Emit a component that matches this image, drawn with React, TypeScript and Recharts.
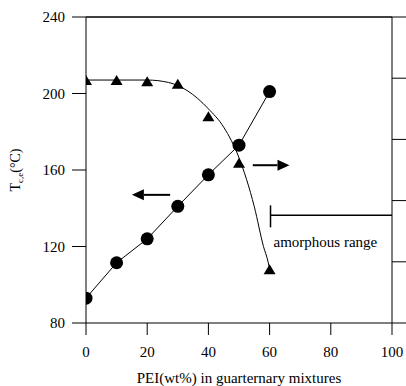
import React from 'react';
import {
  ComposedChart, Line, Scatter, XAxis, YAxis, ReferenceLine,
} from 'recharts';

const xTicks = [0, 20, 40, 60, 80, 100];
const leftTicks = [80, 120, 160, 200, 240];
const rightTicks = [0, 1, 2, 3, 4, 5];

const circleData = [
  { x: 0, y: 93 },
  { x: 10, y: 111.5 },
  { x: 20, y: 124 },
  { x: 30, y: 141 },
  { x: 40, y: 157.5 },
  { x: 50, y: 173 },
  { x: 60, y: 201 },
];

const triangleData = [
  { x: 0, r: 3.97 },
  { x: 10, r: 3.97 },
  { x: 20, r: 3.95 },
  { x: 30, r: 3.91 },
  { x: 40, r: 3.38 },
  { x: 50, r: 2.62 },
  { x: 60, r: 0.88 },
];

const curveData = [
  { x: 0, r: 3.97 },
  { x: 10, r: 3.97 },
  { x: 20, r: 3.97 },
  { x: 27, r: 3.93 },
  { x: 33, r: 3.8 },
  { x: 40, r: 3.5 },
  { x: 45, r: 3.2 },
  { x: 50, r: 2.7 },
  { x: 55, r: 1.9 },
  { x: 58, r: 1.25 },
  { x: 59.5, r: 1.0 },
  { x: 60, r: 0.88 },
];

const FONT = 'Liberation Serif';

const Triangle = (props: any) => {
  const { cx, cy } = props;
  if (cx == null || cy == null) return null;
  const w = 12;
  const h = 10;
  return (
    <polygon
      points={`${cx - w / 2},${cy + h / 2} ${cx + w / 2},${cy + h / 2} ${cx},${cy - h / 2}`}
      fill="#000"
    />
  );
};

const arrowShape = (dir: 'left' | 'right') => (props: any) => {
  const { x1, y1, x2, y2 } = props;
  if (x1 == null) return null;
  const headX = dir === 'left' ? Math.min(x1, x2) : Math.max(x1, x2);
  const tailX = dir === 'left' ? Math.max(x1, x2) : Math.min(x1, x2);
  const y = y1;
  const hl = 12;
  const hw = 5.5;
  const baseX = dir === 'left' ? headX + hl : headX - hl;
  return (
    <g>
      <line x1={tailX} y1={y} x2={baseX} y2={y2} stroke="#000" strokeWidth={2} />
      <polygon points={`${headX},${y} ${baseX},${y - hw} ${baseX},${y + hw}`} fill="#000" />
    </g>
  );
};

const amorphShape = (props: any) => {
  const { x1, y1, x2, y2 } = props;
  if (x1 == null) return null;
  return (
    <g>
      <line x1={x1} y1={y1} x2={x2} y2={y2} stroke="#000" strokeWidth={1.5} />
      <text x={x1 + 3} y={y2 + 20} fontFamily={FONT} fontSize={15} fill="#000">
        amorphous range
      </text>
    </g>
  );
};

const emptyTick = () => <g />;

const TickText = (props: any) => {
  const { x, y, payload, textAnchor, dy } = props;
  return (
    <text
      x={x}
      y={y}
      dy={dy ?? '0.35em'}
      textAnchor={textAnchor}
      fontFamily={FONT}
      fontSize={15}
      fill="#000"
    >
      {payload.value}
    </text>
  );
};

const XTick = (props: any) => <TickText {...props} dy="0.71em" />;
const YTick = (props: any) => <TickText {...props} dy="0.35em" />;

export default function App() {
  return (
    <div style={{ position: 'absolute', left: 0, top: 0, background: '#fff' }}>
      <ComposedChart
        width={406}
        height={386}
        margin={{ top: 17, right: 0, left: 0, bottom: 0 }}
      >
        <XAxis
          xAxisId="x"
          type="number"
          dataKey="x"
          domain={[0, 100]}
          ticks={xTicks}
          allowDataOverflow
          height={63}
          tickSize={12}
          tickMargin={11}
          stroke="#000"
          tick={<XTick />}
          label={(p: any) => {
            const vb = p.viewBox || {};
            const cx = (vb.x ?? 86) + (vb.width ?? 306) / 2;
            return (
              <text
                x={cx}
                y={383}
                textAnchor="middle"
                fontFamily={FONT}
                fontSize={15}
                fill="#000"
              >
                PEI(wt%) in guarternary mixtures
              </text>
            );
          }}
        />
        <YAxis
          yAxisId="left"
          orientation="left"
          type="number"
          domain={[80, 240]}
          ticks={leftTicks}
          width={86}
          tickSize={14}
          tickMargin={7}
          stroke="#000"
          tick={<YTick />}
          label={(p: any) => {
            const vb = p.viewBox || {};
            const cx = 20;
            const cy = (vb.y ?? 17) + (vb.height ?? 306) / 2;
            return (
              <text
                x={cx}
                y={cy}
                transform={`rotate(-90 ${cx} ${cy})`}
                textAnchor="middle"
                fontFamily={FONT}
                fontSize={14}
                fill="#000"
              >
                T<tspan fontSize={9} dy={3}>c,e</tspan>
                <tspan dy={-3}>(°C)</tspan>
              </text>
            );
          }}
        />
        <YAxis
          yAxisId="right"
          orientation="right"
          type="number"
          domain={[0, 5]}
          ticks={rightTicks}
          width={14}
          tickSize={14}
          stroke="#000"
          tick={emptyTick}
        />
        <ReferenceLine xAxisId="x" yAxisId="left" y={240} stroke="#000" strokeWidth={1.5} />
        <Line
          xAxisId="x"
          yAxisId="left"
          data={circleData}
          dataKey="y"
          type="linear"
          stroke="#000"
          strokeWidth={1}
          dot={{ r: 6.5, fill: '#000', stroke: '#000', strokeWidth: 0 }}
          isAnimationActive={false}
        />
        <Line
          xAxisId="x"
          yAxisId="right"
          data={curveData}
          dataKey="r"
          type="monotone"
          stroke="#000"
          strokeWidth={1}
          dot={false}
          isAnimationActive={false}
        />
        <Scatter
          xAxisId="x"
          yAxisId="right"
          data={triangleData}
          dataKey="r"
          shape={<Triangle />}
          isAnimationActive={false}
        />
        <ReferenceLine
          xAxisId="x"
          yAxisId="left"
          segment={[{ x: 27.5, y: 147 }, { x: 15, y: 147 }]}
          shape={arrowShape('left')}
        />
        <ReferenceLine
          xAxisId="x"
          yAxisId="left"
          segment={[{ x: 54.5, y: 162.5 }, { x: 66.5, y: 162.5 }]}
          shape={arrowShape('right')}
        />
        <ReferenceLine
          xAxisId="x"
          yAxisId="left"
          segment={[{ x: 60.3, y: 141.5 }, { x: 60.3, y: 130 }]}
          shape={amorphShape}
        />
        <ReferenceLine
          xAxisId="x"
          yAxisId="left"
          segment={[{ x: 60.3, y: 136.3 }, { x: 100, y: 136.3 }]}
          stroke="#000"
          strokeWidth={1.5}
        />
      </ComposedChart>
    </div>
  );
}
